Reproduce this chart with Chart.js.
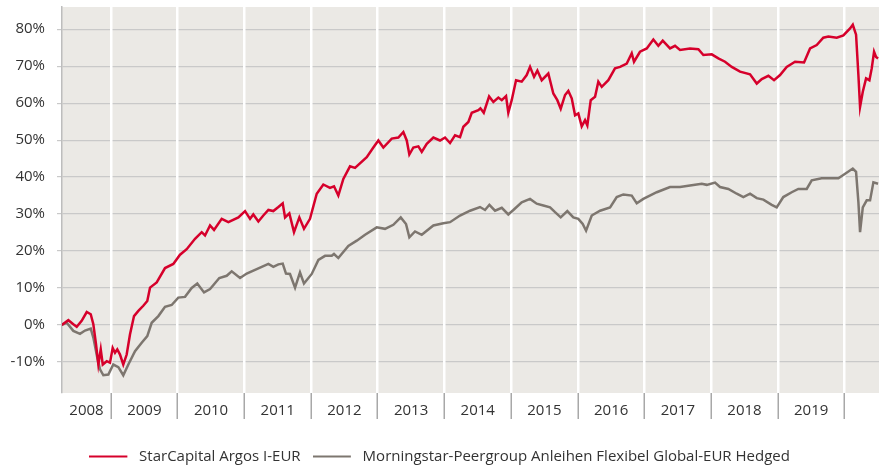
<!DOCTYPE html>
<html>
<head>
  <title>StarCapital Argos</title>
  <script src="https://cdn.jsdelivr.net/npm/chart.js"></script>
  <style>
    body {
      margin: 0;
      background: #fff;
    }
    #wrap {
      width: 885px;
      height: 467px;
    }
  </style>
</head>
<body>
  <div id="wrap"><canvas id="perfChart" width="885" height="467"></canvas></div>

  <script>
    // year labels on the x axis, one per calendar year
    const yearLabels = ['2008', '2009', '2010', '2011', '2012', '2013', '2014', '2015', '2016', '2017', '2018', '2019'];
    const yTickValues = [-10, 0, 10, 20, 30, 40, 50, 60, 70, 80];
    const xMin = 2008.265;
    const xMax = 2020.517;

    // StarCapital Argos I-EUR (decimal year, % performance)
    const argosYears = [2008.26, 2008.36, 2008.435, 2008.486, 2008.56, 2008.636, 2008.696, 2008.735, 2008.775, 2008.81,
      2008.846, 2008.876, 2008.936, 2008.985, 2009.025, 2009.06, 2009.094, 2009.135, 2009.184, 2009.235,
      2009.285, 2009.345, 2009.41, 2009.484, 2009.544, 2009.585, 2009.685, 2009.81, 2009.934, 2010.035,
      2010.135, 2010.26, 2010.36, 2010.41, 2010.485, 2010.545, 2010.66, 2010.76, 2010.91, 2011.01,
      2011.085, 2011.134, 2011.21, 2011.284, 2011.36, 2011.434, 2011.51, 2011.575, 2011.61, 2011.674,
      2011.744, 2011.824, 2011.894, 2011.984, 2012.085, 2012.184, 2012.284, 2012.344, 2012.409, 2012.484,
      2012.584, 2012.659, 2012.835, 2012.934, 2013.009, 2013.084, 2013.21, 2013.309, 2013.384, 2013.435,
      2013.474, 2013.534, 2013.609, 2013.66, 2013.735, 2013.834, 2013.934, 2014.009, 2014.084, 2014.159,
      2014.234, 2014.284, 2014.359, 2014.41, 2014.509, 2014.54, 2014.59, 2014.67, 2014.734, 2014.809,
      2014.86, 2014.924, 2014.958, 2015.009, 2015.074, 2015.159, 2015.234, 2015.284, 2015.344, 2015.394,
      2015.459, 2015.558, 2015.633, 2015.693, 2015.744, 2015.809, 2015.858, 2015.909, 2015.959, 2016.008,
      2016.059, 2016.109, 2016.143, 2016.194, 2016.259, 2016.308, 2016.359, 2016.458, 2016.558, 2016.634,
      2016.734, 2016.809, 2016.843, 2016.933, 2017.034, 2017.133, 2017.208, 2017.274, 2017.383, 2017.458,
      2017.533, 2017.683, 2017.808, 2017.883, 2018.009, 2018.108, 2018.208, 2018.309, 2018.433, 2018.583,
      2018.684, 2018.759, 2018.858, 2018.943, 2019.033, 2019.133, 2019.258, 2019.393, 2019.483, 2019.583,
      2019.682, 2019.758, 2019.883, 2019.983, 2020.083, 2020.124, 2020.173, 2020.208, 2020.233, 2020.274,
      2020.323, 2020.373, 2020.408, 2020.443, 2020.473, 2020.503];
    const argosValues = [0, 1.3, 0.2, -0.5, 1.1, 3.5, 2.9, 0.2, -5.2, -10.7,
      -6.6, -10.7, -9.8, -10.2, -6.2, -7.5, -6.6, -8, -10.7, -8,
      -2.5, 2.4, 3.8, 5.2, 6.5, 10.1, 11.5, 15.4, 16.5, 19,
      20.5, 23.3, 25.1, 24.2, 26.9, 25.7, 28.7, 27.8, 29.1, 30.8,
      28.7, 29.9, 28, 29.6, 31.1, 30.8, 31.9, 32.9, 29.1, 30.2,
      25.1, 29.1, 26, 28.7, 35.5, 38, 37.1, 37.5, 35, 39.5,
      42.9, 42.5, 45.4, 48, 49.9, 48, 50.4, 50.7, 52.2, 49.9,
      46.1, 48, 48.3, 46.8, 49, 50.7, 49.9, 50.7, 49.2, 51.3,
      50.8, 53.6, 54.9, 57.4, 58.1, 58.6, 57.4, 61.8, 60.3, 61.5,
      60.8, 61.9, 57.4, 60.8, 66.2, 65.8, 67.6, 69.8, 67.1, 68.8,
      66.2, 68, 62.6, 60.8, 58.5, 62.2, 63.3, 61.3, 56.7, 57.2,
      53.7, 55.4, 54, 60.8, 61.7, 65.8, 64.4, 66.2, 69.4, 69.8,
      70.7, 73.5, 71.2, 73.9, 74.8, 77.2, 75.5, 76.9, 74.8, 75.5,
      74.4, 74.8, 74.6, 73, 73.2, 72.1, 71.2, 69.8, 68.5, 67.8,
      65.3, 66.5, 67.4, 66.2, 67.6, 69.8, 71.2, 71, 74.8, 75.7,
      77.7, 78, 77.7, 78.3, 80.2, 81.2, 78.5, 67.6, 59, 63.1,
      66.7, 66.2, 69.4, 73.9, 72.5, 72.1];

    // Morningstar peer group (decimal year, % performance)
    const peerYears = [2008.26, 2008.336, 2008.435, 2008.535, 2008.61, 2008.696, 2008.735, 2008.795, 2008.835, 2008.885,
      2008.96, 2009.034, 2009.11, 2009.184, 2009.26, 2009.36, 2009.46, 2009.544, 2009.61, 2009.71,
      2009.81, 2009.91, 2010.009, 2010.11, 2010.21, 2010.294, 2010.395, 2010.485, 2010.624, 2010.735,
      2010.81, 2010.935, 2011.035, 2011.185, 2011.36, 2011.434, 2011.51, 2011.575, 2011.624, 2011.684,
      2011.76, 2011.834, 2011.894, 2012.01, 2012.11, 2012.21, 2012.31, 2012.344, 2012.409, 2012.559,
      2012.685, 2012.81, 2012.985, 2013.109, 2013.234, 2013.345, 2013.424, 2013.474, 2013.559, 2013.66,
      2013.834, 2013.984, 2014.084, 2014.234, 2014.384, 2014.534, 2014.609, 2014.674, 2014.759, 2014.86,
      2014.958, 2015.034, 2015.159, 2015.284, 2015.384, 2015.484, 2015.584, 2015.659, 2015.744, 2015.843,
      2015.933, 2016.008, 2016.074, 2016.124, 2016.209, 2016.334, 2016.484, 2016.584, 2016.683, 2016.809,
      2016.884, 2016.983, 2017.184, 2017.383, 2017.533, 2017.683, 2017.859, 2017.934, 2018.058, 2018.133,
      2018.258, 2018.384, 2018.483, 2018.583, 2018.684, 2018.783, 2018.908, 2018.983, 2019.082, 2019.208,
      2019.307, 2019.433, 2019.508, 2019.658, 2019.808, 2019.908, 2020.009, 2020.124, 2020.173, 2020.208,
      2020.233, 2020.274, 2020.333, 2020.383, 2020.433, 2020.503];
    const peerValues = [0, 0.6, -1.6, -2.4, -1.5, -1, -3.4, -8.9, -12, -13.6,
      -13.4, -10.7, -11.4, -13.6, -10.7, -7.1, -4.8, -3, 0.6, 2.4,
      4.9, 5.4, 7.4, 7.6, 10, 11.2, 8.8, 9.7, 12.7, 13.3,
      14.5, 12.7, 13.9, 15.1, 16.5, 15.7, 16.4, 16.6, 13.9, 13.8,
      10.1, 14.2, 11.2, 13.8, 17.6, 18.7, 18.7, 19.2, 18.1, 21.4,
      22.8, 24.4, 26.4, 26, 27.1, 29.1, 27.3, 23.7, 25.3, 24.4,
      26.9, 27.5, 27.8, 29.6, 30.9, 31.9, 31.1, 32.5, 30.9, 31.7,
      29.9, 31.1, 33.2, 34.1, 32.8, 32.3, 31.8, 30.5, 29.1, 30.8,
      29.1, 28.7, 27.3, 25.5, 29.6, 30.9, 31.8, 34.6, 35.3, 35,
      32.9, 34.1, 35.9, 37.3, 37.3, 37.7, 38.2, 37.9, 38.5, 37.3,
      36.8, 35.5, 34.6, 35.5, 34.3, 33.9, 32.5, 31.8, 34.6, 35.9,
      36.8, 36.8, 39.1, 39.7, 39.7, 39.7, 40.9, 42.3, 41.4, 33.2,
      25.1, 31.8, 33.7, 33.7, 38.6, 38.2];

    const toPoints = (xs, ys) => xs.map((x, i) => ({ x: x, y: ys[i] }));

    // beige plot background
    const plotBg = {
      id: 'plotBg',
      beforeDraw(chart) {
        const a = chart.chartArea;
        const ctx = chart.ctx;
        ctx.save();
        ctx.fillStyle = '#ebe9e5';
        ctx.fillRect(a.left, a.top, a.right - a.left, a.bottom - a.top);
        ctx.restore();
      }
    };

    // legend marker: a 38px line, with some empty room on its right
    function lineMarker(color) {
      const c = document.createElement('canvas');
      c.width = 42;
      c.height = 4;
      const g = c.getContext('2d');
      g.fillStyle = color;
      g.fillRect(0, 1, 38, 2);
      return c;
    }

    const isBoundary = (c) => c.tick && c.tick.yr === undefined;
    const font = { family: 'Open Sans', size: 15 };

    new Chart(document.getElementById('perfChart'), {
      type: 'line',
      data: {
        datasets: [{
          label: 'StarCapital Argos I-EUR',
          data: toPoints(argosYears, argosValues),
          borderColor: '#d6002b',
          backgroundColor: '#d6002b',
          borderWidth: 2.5,
          pointRadius: 0,
          tension: 0
        }, {
          label: 'Morningstar-Peergroup Anleihen Flexibel Global-EUR Hedged',
          data: toPoints(peerYears, peerValues),
          borderColor: '#7d766f',
          backgroundColor: '#7d766f',
          borderWidth: 2.5,
          pointRadius: 0,
          tension: 0
        }]
      },
      options: {
        responsive: false,
        animation: false,
        layout: { padding: { top: 7, right: 6, left: 0, bottom: -7 } },
        plugins: {
          tooltip: { enabled: false },
          legend: {
            position: 'bottom',
            labels: {
              color: '#333',
              font: font,
              usePointStyle: true,
              pointStyleWidth: 42.5,
              padding: 12,
              generateLabels(chart) {
                return Chart.defaults.plugins.legend.labels.generateLabels(chart).map(l => {
                  l.pointStyle = lineMarker(l.strokeStyle);
                  return l;
                });
              }
            }
          }
        },
        scales: {
          x: {
            type: 'linear',
            min: xMin,
            max: xMax,
            afterFit(scale) {
              scale.height = 44;
              scale.paddingLeft = 0;
              scale.paddingRight = 0;
            },
            afterBuildTicks(scale) {
              const t = [];
              yearLabels.forEach(y => {
                const yr = Number(y);
                const start = Math.max(yr, xMin);
                t.push({ value: (start + yr + 1) / 2, yr: y });
                t.push({ value: yr + 1 });
              });
              scale.ticks = t.sort((a, b) => a.value - b.value);
            },
            ticks: {
              autoSkip: false,
              maxRotation: 0,
              padding: -17,
              color: '#333',
              font: font,
              callback: (v, i, ticks) => ticks[i].yr || ''
            },
            grid: {
              z: -1,
              lineWidth: 2.5,
              tickLength: 26,
              tickWidth: 1.5,
              color: c => isBoundary(c) ? '#ffffff' : 'rgba(0,0,0,0)',
              tickColor: c => isBoundary(c) ? '#a8a8a8' : 'rgba(0,0,0,0)'
            },
            border: { display: false }
          },
          y: {
            min: -18.4,
            max: 86,
            afterFit(scale) {
              scale.width = 62;
              scale.paddingTop = 0;
              scale.paddingBottom = 0;
            },
            afterBuildTicks(scale) {
              scale.ticks = yTickValues.map(v => ({ value: v }));
            },
            ticks: {
              padding: 12,
              color: '#333',
              font: font,
              callback: v => v + '%'
            },
            grid: {
              z: -2,
              color: '#c9c9c9',
              lineWidth: 1.2,
              tickLength: 5
            },
            border: { display: true, color: '#bdbdbd', width: 1.5 }
          }
        }
      },
      plugins: [plotBg]
    });
  </script>
</body>
</html>
